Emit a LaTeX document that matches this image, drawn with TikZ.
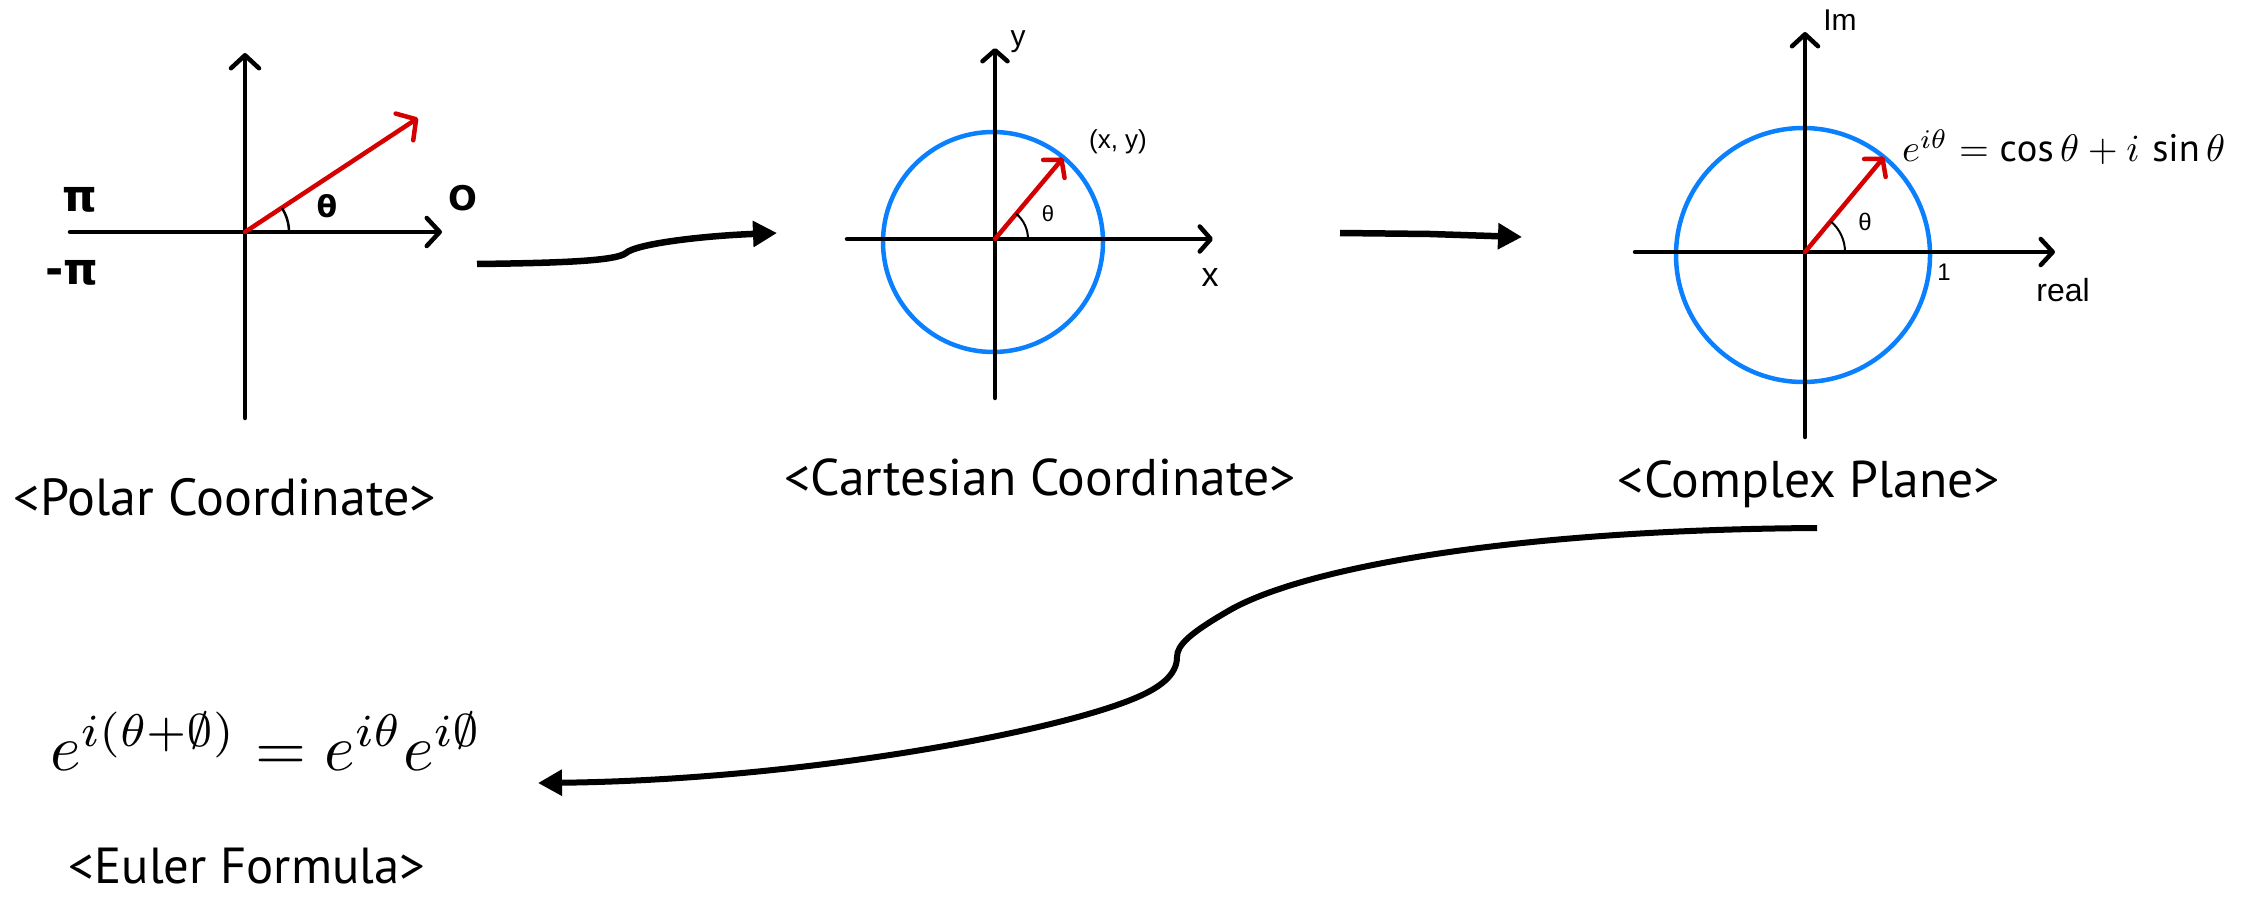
\documentclass[tikz,border=0pt]{standalone}
\usepackage{fontspec}
\usepackage{amssymb}
\setmainfont{PT Sans}
\newfontfamily\dv{DejaVu Sans}
\newfontfamily\lib{Liberation Sans}
\usetikzlibrary{arrows.meta}
\definecolor{vred}{RGB}{213,0,0}
\definecolor{cblue}{RGB}{10,128,255}
\begin{document}
\begin{tikzpicture}[x=1pt,y=1pt,
  axisline/.style={line width=4.5pt,line cap=round,-{Straight Barb[round,length=13pt,width=28pt]}},
  vecline/.style={vred,line width=4.5pt,line cap=round,-{Straight Barb[round,length=14pt,width=32pt]}},
  angarc/.style={line width=2.5pt},
  ucirc/.style={cblue,line width=4.5pt},
  flow/.style={line width=6.5pt,-{Triangle[length=24pt,width=25pt]}},
  caption/.style={inner sep=0pt,anchor=center},
  hand/.style={inner sep=0pt,anchor=center},
]
\useasboundingbox (0,0) rectangle (2245,-901);

% ---------- Polar ----------
\coordinate (PO) at (245,-232);
\draw[axisline] (70,-232) -- (442,-232);
\draw[axisline] (245,-418) -- (245,-53);
\draw[vecline] (PO) -- (418,-118);
\draw[angarc] ([shift={(0:44)}]PO) arc (0:33:44);
\node[hand,font=\dv\bfseries\fontsize{44}{44}\selectfont] (pi) at (80,-200) {π};
\node[hand,font=\dv\bfseries\fontsize{44}{44}\selectfont] (mpi) at (72,-273) {-π};
\node[hand,font=\dv\bfseries\fontsize{30}{30}\selectfont] (pth) at (327,-206) {θ};
\node[hand,font=\dv\bfseries\fontsize{34}{34}\selectfont] (pzero) at (463,-198) {O};
\node[caption] (capP) at (225,-497) {\resizebox{422pt}{!}{<Polar Coordinate>}};

% ---------- Cartesian ----------
\coordinate (CO) at (995,-239);
\draw[ucirc] (993,-242) circle (110);
\draw[axisline,-{Straight Barb[round,length=11pt,width=25pt]}] (847,-239) -- (1213,-239);
\draw[axisline,-{Straight Barb[round,length=11pt,width=25pt]}] (995,-398) -- (995,-48);
\draw[vecline,-{Straight Barb[round,length=12pt,width=28pt]}] (CO) -- (1063,-158);
\draw[angarc,line width=2pt] ([shift={(0:33)}]CO) arc (0:50:33);
\node[hand,font=\lib\fontsize{22}{22}\selectfont] (cth) at (1048,-214) {θ};
\node[hand,font=\lib\fontsize{26}{26}\selectfont] (cxy) at (1118,-142) {(x, y)};
\node[hand,font=\lib\fontsize{30}{30}\selectfont] (cy) at (1018,-42) {y};
\node[hand,font=\lib\fontsize{34}{34}\selectfont] (cx) at (1210,-278) {x};
\node[caption] (capC) at (1040,-477) {\resizebox{511pt}{!}{<Cartesian Coordinate>}};

% ---------- Complex ----------
\coordinate (ZO) at (1805,-252);
\draw[ucirc] (1803,-255) circle (127);
\draw[axisline,-{Straight Barb[round,length=12pt,width=26pt]}] (1635,-252) -- (2055,-252);
\draw[axisline,-{Straight Barb[round,length=12pt,width=26pt]}] (1805,-437) -- (1805,-32);
\draw[vecline,-{Straight Barb[round,length=12pt,width=28pt]}] (ZO) -- (1884,-157);
\draw[angarc,line width=2pt] ([shift={(0:40)}]ZO) arc (0:50:40);
\node[hand,font=\lib\fontsize{24}{24}\selectfont] (zth) at (1865,-222) {θ};
\node[hand,font=\lib\fontsize{24}{24}\selectfont] (zone) at (1944,-272) {1};
\node[hand,font=\lib\fontsize{32}{32}\selectfont] (zre) at (2063,-290) {real};
\node[hand,font=\lib\fontsize{30}{30}\selectfont] (zim) at (1840,-20) {Im};
\node[inner sep=0pt,anchor=base west] (zeq) at (1902,-162) {\resizebox{323pt}{!}{$e^{i\theta} = \cos\theta + i\,\sin\theta$}};
\node[caption] (capZ) at (1809,-484) {\resizebox{382pt}{!}{<Complex Plane>}};

% ---------- Euler ----------
\node[inner sep=0pt,anchor=base west] (euler) at (50,-770) {\resizebox{432pt}{!}{$e^{i(\theta+\emptyset)} = e^{i\theta}e^{i\emptyset}$}};
\node[inner sep=0pt,anchor=base] (capE) at (247,-883) {\resizebox{356pt}{!}{<Euler Formula>}};

% ---------- connectors ----------
\coordinate (a1s) at (477,-264);
\coordinate (a1e) at (777,-233);
\draw[flow] (a1s) .. controls (560,-263) and (616,-261) .. (626,-253)
  .. controls (636,-244) and (700,-236) .. (a1e);

\coordinate (a2s) at (1340,-233);
\coordinate (a2e) at (1522,-237);
\draw[flow] (a2s) -- (1430,-234) -- (a2e);

\coordinate (a3s) at (1817,-528);
\coordinate (a3e) at (538,-783);
\draw[flow,line width=6pt] (a3s) .. controls (1500,-530) and (1300,-570) .. (1230,-610)
  .. controls (1190,-633) and (1177,-645) .. (1177,-657)
  .. controls (1177,-675) and (1160,-688) .. (1133,-699)
  .. controls (1050,-733) and (800,-780) .. (a3e);
\end{tikzpicture}
\end{document}
